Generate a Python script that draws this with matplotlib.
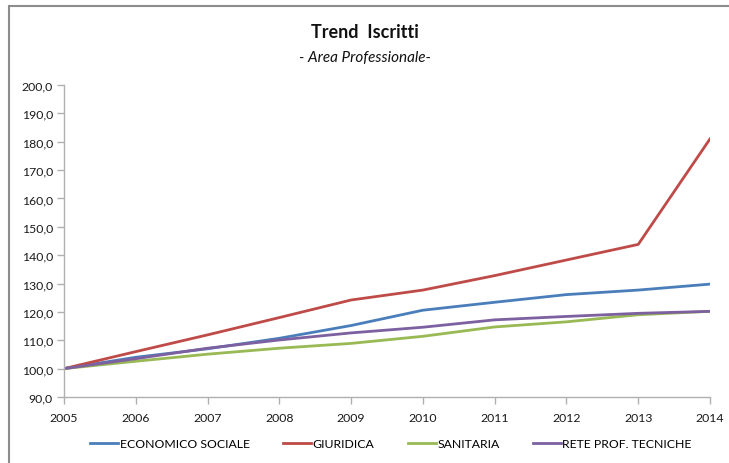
import matplotlib
matplotlib.use("Agg")
import matplotlib.pyplot as plt
from matplotlib.patches import Rectangle

plt.rcParams['font.family'] = ['Lato', 'DejaVu Sans']

years = [2005, 2006, 2007, 2008, 2009, 2010, 2011, 2012, 2013, 2014]
economico_sociale = [100.0, 104.0, 107.0, 110.7, 115.2, 120.6, 123.4, 126.1, 127.7, 129.8]
giuridica = [100.0, 106.0, 111.9, 118.0, 124.2, 127.7, 132.8, 138.3, 143.8, 181.0]
sanitaria = [100.0, 102.6, 105.1, 107.2, 108.9, 111.4, 114.7, 116.5, 119.0, 120.2]
rete_prof_tecniche = [100.0, 103.5, 107.2, 110.1, 112.6, 114.6, 117.2, 118.4, 119.5, 120.2]

series = [
    ("ECONOMICO SOCIALE", economico_sociale, "#4A7EBB"),
    ("GIURIDICA", giuridica, "#BE4B48"),
    ("SANITARIA", sanitaria, "#98B954"),
    ("RETE PROF. TECNICHE", rete_prof_tecniche, "#7D60A0"),
]
y_ticks = [90, 100, 110, 120, 130, 140, 150, 160, 170, 180, 190, 200]

W, H = 729, 464
fig = plt.figure(figsize=(W / 100, H / 100), dpi=100)
fig.patch.set_facecolor("white")

# outer chart frame
fig.patches.append(Rectangle((9 / W, -0.1), 1.2, 1 - 7 / H + 0.1,
                             transform=fig.transFigure, fill=False,
                             edgecolor="#8c8c8c", linewidth=1.5))

ax = fig.add_axes([64 / W, 1 - 398 / H, (710 - 64) / W, (398 - 86) / H])
for name, vals, color in series:
    ax.plot(years, vals, color=color, linewidth=2.0, label=name,
            solid_joinstyle="round")

ax.set_xlim(2005, 2014)
ax.set_ylim(90, 200)
ax.set_xticks(years)
ax.set_yticks(y_ticks)
ax.set_yticklabels([f"{v:.1f}".replace(".", ",") for v in y_ticks])
for s in ("top", "right"):
    ax.spines[s].set_visible(False)
for s in ("left", "bottom"):
    ax.spines[s].set_color("#b0b0b0")
    ax.spines[s].set_linewidth(1.0)
ax.tick_params(axis="both", colors="#b0b0b0", labelcolor="#1a1a1a",
               labelsize=8.8, length=5, width=1.0)
ax.tick_params(axis="x", pad=6)
ax.tick_params(axis="y", pad=3)

fig.text(0.5, 1 - 32 / H, "Trend  Iscritti", ha="center", va="center",
         fontsize=13, fontweight="bold", color="#111111")
fig.text(0.5, 1 - 58 / H, "- Area Professionale-", ha="center", va="center",
         fontsize=11, fontstyle="italic", color="#111111")

fig.legend(loc="center", bbox_to_anchor=(391 / W, 1 - 445 / H), ncol=4,
           frameon=False, fontsize=8.8, handlelength=2.3, handletextpad=0.1,
           columnspacing=2.75)

fig.savefig("out.png", dpi=100)
